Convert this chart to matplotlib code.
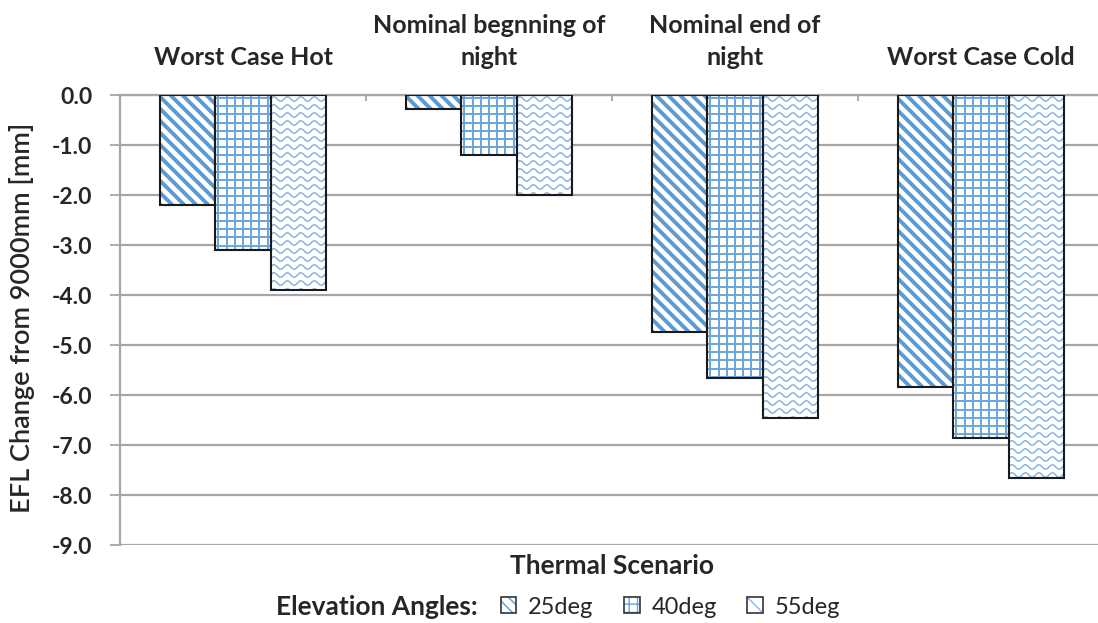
import numpy as np
import matplotlib.pyplot as plt
from matplotlib.collections import LineCollection
from matplotlib.patches import Rectangle
from matplotlib.legend_handler import HandlerTuple

plt.rcParams['font.family'] = ['Lato', 'DejaVu Sans']

scenarios = ['Worst Case Hot', 'Nominal begnning of\nnight', 'Nominal end of\nnight', 'Worst Case Cold']
angles = ['25deg', '40deg', '55deg']
efl_25 = [-2.20, -0.27, -4.73, -5.84]
efl_40 = [-3.09, -1.20, -5.65, -6.85]
efl_55 = [-3.89, -2.00, -6.45, -7.65]

TEXT = '#262626'
GRID = '#a6a6a6'
BLUE = '#5b9bd5'

W, H = 1098, 623
fig = plt.figure(figsize=(W / 100, H / 100), dpi=100)
# axes run a little past the right edge of the figure
ax = fig.add_axes([120 / W, 1 - 545 / H, 984 / W, 450 / H])
ax.set_xlim(-0.5, 3.5)
ax.set_ylim(-9, 0)

x = np.arange(len(scenarios))
bw = 0.224


def px_to_data(pts):
    return ax.transData.inverted().transform(pts)


def clipped(segs, patch, color, lw):
    segs = [px_to_data(np.asarray(s)) for s in segs]
    lc = LineCollection(segs, colors=color, linewidths=lw, zorder=2)
    ax.add_collection(lc)
    lc.set_clip_path(patch)


def stripes(patch):
    b = patch.get_window_extent()
    step = 12
    segs = []
    for c in np.arange(b.x0 - b.height - step, b.x1 + step, step):
        segs.append([(c, b.y1), (c + b.height + 4, b.y1 - b.height - 4)])
    clipped(segs, patch, BLUE, 2.8)


def grid(patch):
    b = patch.get_window_extent()
    step = 8.2
    segs = []
    for gx in np.arange(b.x0 + 3, b.x1, step):
        segs.append([(gx, b.y0), (gx, b.y1)])
    for gy in np.arange(b.y1 - 3, b.y0, -step):
        segs.append([(b.x0, gy), (b.x1, gy)])
    clipped(segs, patch, '#6aa4dc', 1.4)


def waves(patch):
    b = patch.get_window_extent()
    t = np.linspace(b.x0 - 5, b.x1 + 5, 200)
    segs = []
    for gy in np.arange(b.y1 - 4, b.y0 - 6, -8):
        segs.append(np.column_stack([t, gy + 2.2 * np.sin(2 * np.pi * (t - b.x0) / 13.5)]))
    clipped(segs, patch, '#86b5e4', 1.1)


fills = [stripes, grid, waves]
for k, vals in enumerate([efl_25, efl_40, efl_55]):
    bars = ax.bar(x + (k - 1) * bw, vals, bw, color='white', edgecolor='none', zorder=1)
    for p in bars:
        fills[k](p)
    ax.bar(x + (k - 1) * bw, vals, bw, fill=False, edgecolor='#1a1a1a', linewidth=1.5, zorder=3)

# axes styling
ax.set_yticks(np.arange(-9, 0.1, 1))
ax.set_yticklabels([f'{v:.1f}' for v in np.arange(-9, 0.1, 1)], fontsize=16.5, fontweight='bold', color=TEXT)
ax.yaxis.grid(True, color=GRID, linewidth=1.6, zorder=0)
ax.set_axisbelow(True)
ax.tick_params(axis='y', length=7, width=1.3, color=GRID, pad=13)

ax.xaxis.tick_top()
ax.set_xticks(x)
ax.set_xticklabels(scenarios, fontsize=18, fontweight='bold', color=TEXT, linespacing=1.45)
ax.set_xticks(np.arange(-0.5, 3.6, 1), minor=True)
ax.tick_params(axis='x', which='major', length=0, pad=19)
ax.tick_params(axis='x', which='minor', direction='in', length=4, width=1.3, color=GRID)

for side in ['right', 'bottom']:
    ax.spines[side].set_visible(False)
for side in ['left', 'top']:
    ax.spines[side].set_color(GRID)
    ax.spines[side].set_linewidth(1.6)

fig.text(612 / W, 1 - 566 / H, 'Thermal Scenario', ha='center', va='center',
         fontsize=19, fontweight='bold', color=TEXT)
fig.text(22 / W, 1 - 318 / H, 'EFL Change from 9000mm [mm]', rotation=90, ha='center', va='center',
         fontsize=19.5, fontweight='semibold', color=TEXT)

# legend
hatches = ['\\\\\\', '++', '\\\\']
hcols = [BLUE, '#6aa4dc', '#86b5e4']
handles = []
for h, c in zip(hatches, hcols):
    handles.append((Rectangle((0, 0), 1, 1, facecolor='white', edgecolor=c, hatch=h, linewidth=0),
                    Rectangle((0, 0), 1, 1, fill=False, edgecolor='#333333', linewidth=1.2)))
fig.text(478 / W, 1 - 607 / H, 'Elevation Angles:', ha='right', va='center',
         fontsize=19, fontweight='bold', color=TEXT)
fig.legend(handles, angles, handler_map={tuple: HandlerTuple(ndivide=1, pad=0)},
           loc='center left', bbox_to_anchor=(501 / W, 1 - 607 / H), ncol=3, frameon=False,
           fontsize=17, handlelength=0.65, handleheight=0.65, handletextpad=0.5,
           columnspacing=1.3, borderpad=0, borderaxespad=0, labelcolor=TEXT)

fig.savefig('out.png', dpi=100)
